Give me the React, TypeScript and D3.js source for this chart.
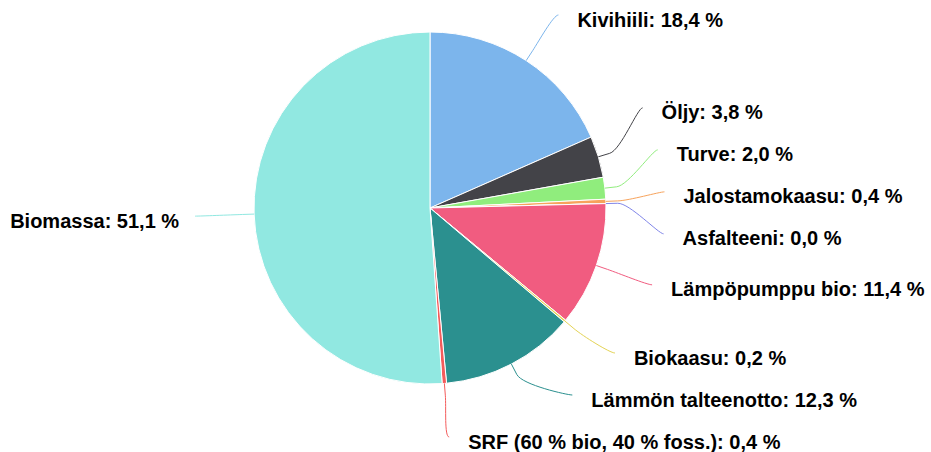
import React, { useEffect, useRef } from 'react';
import * as d3 from 'd3';

// Energy sources, share of total (%), clockwise from the top
const categories = [
  'Kivihiili',
  'Öljy',
  'Turve',
  'Jalostamokaasu',
  'Asfalteeni',
  'Lämpöpumppu bio',
  'Biokaasu',
  'Lämmön talteenotto',
  'SRF (60 % bio, 40 % foss.)',
  'Biomassa',
];
const shares = [18.4, 3.8, 2.0, 0.4, 0.0, 11.4, 0.2, 12.3, 0.4, 51.1];
const colors = [
  '#7cb5ec', '#434348', '#90ed7d', '#f7a35c', '#8085e9',
  '#f15c80', '#e4d354', '#2b908f', '#f45b5b', '#91e8e1',
];

const width = 931;
const height = 452;

type Label = {
  i: number;
  angle: number;
  target: number;
  y: number;
  clamped: boolean;
};

// push overlapping labels apart; a merged group sits around the middle of its targets
function distribute(items: Label[], size: number, min: number, max: number) {
  const sorted = [...items].sort((a, b) => a.target - b.target);
  let clusters = sorted.map(it => ({ members: [it], start: it.target }));
  const place = (c: { members: Label[]; start: number }) => {
    const n = c.members.length;
    const lo = d3.min(c.members, m => m.target) as number;
    const hi = d3.max(c.members, m => m.target) as number;
    const mid = (lo + hi) / 2;
    c.start = Math.max(min, Math.min(max - (n - 1) * size, mid - ((n - 1) * size) / 2));
  };
  clusters.forEach(place);
  let changed = true;
  while (changed) {
    changed = false;
    for (let k = 1; k < clusters.length; k++) {
      const a = clusters[k - 1];
      const b = clusters[k];
      if (b.start < a.start + a.members.length * size - 0.01) {
        a.members = a.members.concat(b.members);
        place(a);
        clusters.splice(k, 1);
        changed = true;
        break;
      }
    }
  }
  clusters.forEach(c => {
    c.members.forEach((m, j) => {
      m.y = c.start + j * size;
      m.clamped = Math.abs(m.y - min) < 0.5 || Math.abs(m.y - max) < 0.5;
    });
  });
}

const PieChart = () => {
  const svgRef = useRef<SVGSVGElement>(null);

  useEffect(() => {
    const svg = d3.select(svgRef.current);
    svg.selectAll('*').remove();

    const cx = 430;
    const cy = 208;
    const r = 176;
    const distance = 59;
    const R = r + distance;
    const labelSize = 42;

    const pie = d3.pie<number>().sort(null).value(d => d).startAngle(0).endAngle(2 * Math.PI);
    const arcs = pie(shares);
    const arc = d3.arc<d3.PieArcDatum<number>>().innerRadius(0).outerRadius(r);

    const g = svg.append('g').attr('transform', `translate(${cx},${cy})`);
    g.selectAll('path')
      .data(arcs)
      .enter()
      .append('path')
      .attr('d', arc)
      .attr('fill', (d, i) => colors[i])
      .attr('stroke', '#ffffff')
      .attr('stroke-width', 1)
      .attr('stroke-linejoin', 'round');

    const labels: Label[] = arcs.map((a, i) => {
      const angle = (a.startAngle + a.endAngle) / 2;
      return { i, angle, target: cy - R * Math.cos(angle), y: 0, clamped: false };
    });
    const right = labels.filter(l => l.angle <= Math.PI);
    const left = labels.filter(l => l.angle > Math.PI);
    distribute(right, labelSize, 15, 437);
    distribute(left, labelSize, 15, 437);

    const getX = (y: number, isRight: boolean) => {
      const dy = Math.max(-R, Math.min(R, y - cy));
      return cx + (isRight ? 1 : -1) * Math.sqrt(R * R - dy * dy);
    };

    const fmt = (v: number) => v.toFixed(1).replace('.', ',') + ' %';

    labels.forEach(l => {
      const isRight = l.angle <= Math.PI;
      const sign = isRight ? 1 : -1;
      const lx = getX(l.clamped ? l.target : l.y, isRight);
      const ly = l.y;
      const sin = Math.sin(l.angle);
      const cos = -Math.cos(l.angle);
      const tx = cx + r * sin;
      const ty = cy + r * cos;
      const bx = cx + (r + distance / 5) * sin;
      const by = cy + (r + distance / 5) * cos;
      const path = `M${lx},${ly} C${lx - sign * 5},${ly} ${2 * bx - tx},${2 * by - ty} ${bx},${by} L${tx},${ty}`;

      svg.append('path')
        .attr('d', path)
        .attr('fill', 'none')
        .attr('stroke', colors[l.i])
        .attr('stroke-width', 1);

      svg.append('text')
        .attr('x', lx + sign * (isRight ? 19 : 16))
        .attr('y', ly + 11.5)
        .attr('text-anchor', isRight ? 'start' : 'end')
        .style('font-family', '"Liberation Sans", Arial, sans-serif')
        .style('font-size', '20px')
        .style('font-weight', 'bold')
        .attr('fill', '#000000')
        .attr('stroke', '#ffffff')
        .attr('stroke-width', 2)
        .attr('stroke-linejoin', 'round')
        .attr('paint-order', 'stroke')
        .text(`${categories[l.i]}: ${fmt(shares[l.i])}`);
    });
  }, []);

  return (
    <svg
      ref={svgRef}
      width={width}
      height={height}
      style={{ position: 'absolute', left: 0, top: 0, background: '#ffffff' }}
    />
  );
};

export default function App() {
  return <PieChart />;
}
